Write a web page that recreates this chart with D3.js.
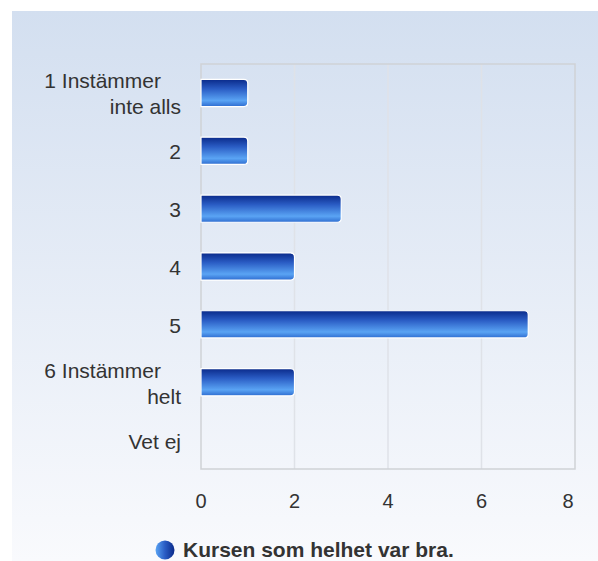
<!DOCTYPE html>
<html>
<head>
<meta charset="utf-8">
<script src="https://cdn.jsdelivr.net/npm/d3@7"></script>
<style>
  body { margin: 0; background: #fff; }
  svg text { font-family: "Liberation Sans", Arial, sans-serif; fill: #333; }
</style>
</head>
<body>
<div id="chart"></div>
<script>
'use strict';

// Data
var categories = [['1 Instämmer', 'inte alls'], ['2'], ['3'], ['4'], ['5'], ['6 Instämmer', 'helt'], ['Vet ej']];
var values = [1, 1, 3, 2, 7, 2, 0];
var xTicks = [0, 2, 4, 6, 8];
var seriesName = 'Kursen som helhet var bra.';

var width = 598,
  height = 561,
  margin = {top: 64, left: 201};

var svg = d3.select('#chart').append('svg')
  .attr('width', width)
  .attr('height', height);

var defs = svg.append('defs');

// Background gradient
var bg = defs.append('linearGradient')
  .attr('id', 'bgGrad')
  .attr('x1', 0).attr('y1', 0).attr('x2', 0).attr('y2', 1);
bg.append('stop').attr('offset', '0%').attr('stop-color', '#d3dff0');
bg.append('stop').attr('offset', '100%').attr('stop-color', '#f9fafd');

// Bar gradient
var bar = defs.append('linearGradient')
  .attr('id', 'barGrad')
  .attr('x1', 0).attr('y1', 0).attr('x2', 0).attr('y2', 1);
bar.append('stop').attr('offset', '0%').attr('stop-color', '#0a2a8a');
bar.append('stop').attr('offset', '35%').attr('stop-color', '#2a5cc4');
bar.append('stop').attr('offset', '78%').attr('stop-color', '#5aa4f4');
bar.append('stop').attr('offset', '100%').attr('stop-color', '#2e6cd0');

// Legend gradient
var leg = defs.append('linearGradient')
  .attr('id', 'legGrad')
  .attr('x1', 0).attr('y1', 0).attr('x2', 1).attr('y2', 0);
leg.append('stop').attr('offset', '0%').attr('stop-color', '#5aa4f4');
leg.append('stop').attr('offset', '50%').attr('stop-color', '#2a5cc4');
leg.append('stop').attr('offset', '100%').attr('stop-color', '#0a2a8a');

svg.append('rect')
  .attr('x', 12)
  .attr('y', 11)
  .attr('width', width - 12)
  .attr('height', height - 11)
  .style('fill', 'url(#bgGrad)');

var plotH = 405;

var x = d3.scaleLinear()
  .domain([0, 8])
  .range([0, 374]);

var y = d3.scaleBand()
  .domain(d3.range(categories.length))
  .range([0, plotH])
  .paddingInner(0.53)
  .paddingOuter(0.265);

var g = svg.append('g')
  .attr('transform', 'translate(' + margin.left + ',' + margin.top + ')');

// Gridlines
g.selectAll('.grid')
  .data(xTicks.slice(1, -1))
  .enter().append('line')
  .attr('class', 'grid')
  .attr('x1', x)
  .attr('x2', x)
  .attr('y1', 0)
  .attr('y2', plotH)
  .style('stroke', '#dfe2e8')
  .style('stroke-width', 1.5);

// Plot border
g.append('rect')
  .attr('x', 0)
  .attr('y', 0)
  .attr('width', x(8))
  .attr('height', plotH)
  .style('fill', 'none')
  .style('stroke', '#cfd2d6')
  .style('stroke-width', 1.5);

// Bars: square left edge, rounded right edge
function barPath(w, h) {
  var r = Math.min(4, w / 2);
  return 'M0,0H' + (w - r) + 'Q' + w + ',0 ' + w + ',' + r +
    'V' + (h - r) + 'Q' + w + ',' + h + ' ' + (w - r) + ',' + h + 'H0Z';
}

g.selectAll('.bar')
  .data(values.map(function (v, i) { return {value: v, index: i}; })
    .filter(function (d) { return d.value > 0; }))
  .enter().append('path')
  .attr('class', 'bar')
  .attr('transform', function (d) { return 'translate(0,' + y(d.index) + ')'; })
  .attr('d', function (d) { return barPath(x(d.value), y.bandwidth()); })
  .style('fill', 'url(#barGrad)')
  .style('stroke', '#ffffff')
  .style('stroke-width', 1.2);

// Category labels
var labels = g.selectAll('.catLabel')
  .data(categories)
  .enter().append('text')
  .attr('class', 'catLabel')
  .attr('text-anchor', 'end')
  .style('font-size', '21px')
  .attr('transform', function (d, i) {
    var cy = y(i) + y.bandwidth() / 2;
    var top = d.length > 1 ? cy - 4.5 : cy + 8.5;
    return 'translate(-20,' + top + ')';
  });

labels.selectAll('tspan')
  .data(function (d) {
    return d.map(function (t, i) { return {text: t, i: i, n: d.length}; });
  })
  .enter().append('tspan')
  .attr('x', function (d) { return d.n > 1 && d.i === 0 ? -20 : 0; })
  .attr('y', function (d) { return d.i * 26; })
  .text(function (d) { return d.text; });

// X tick labels
g.selectAll('.tick')
  .data(xTicks)
  .enter().append('text')
  .attr('class', 'tick')
  .attr('x', function (d, i) { return i === xTicks.length - 1 ? x(d) - 7 : x(d); })
  .attr('y', 444)
  .attr('text-anchor', 'middle')
  .style('font-size', '20px')
  .text(String);

// Legend
var lg = svg.append('g')
  .attr('transform', 'translate(165,550)');

lg.append('circle')
  .attr('r', 9.5)
  .style('fill', 'url(#legGrad)');

lg.append('text')
  .attr('x', 18)
  .attr('y', 7)
  .style('font-size', '21px')
  .style('font-weight', 'bold')
  .text(seriesName);
</script>
</body>
</html>
